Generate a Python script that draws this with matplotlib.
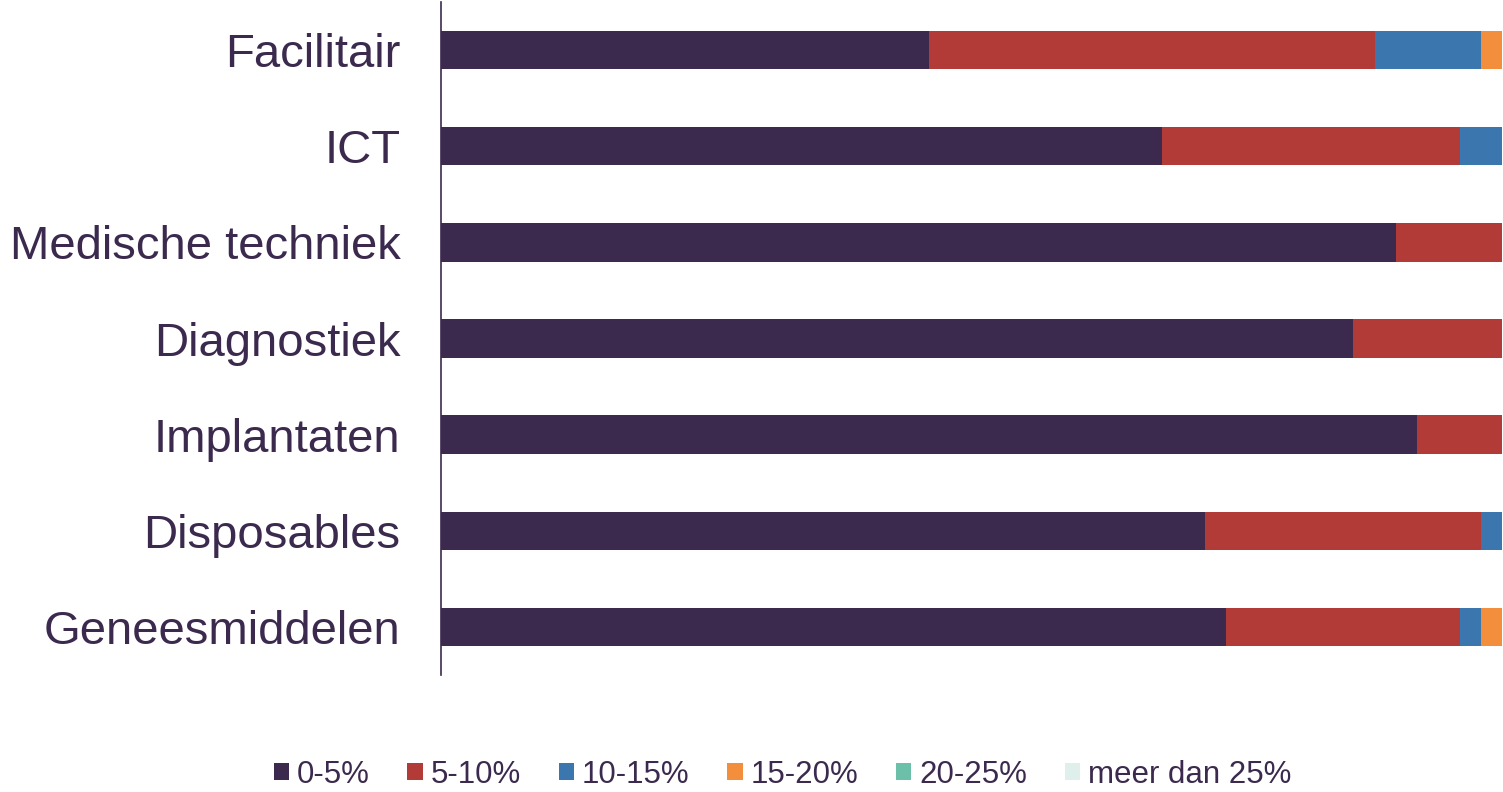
import matplotlib.pyplot as plt
import numpy as np

categories = ['Facilitair', 'ICT', 'Medische techniek', 'Diagnostiek',
              'Implantaten', 'Disposables', 'Geneesmiddelen']
series = ['0-5%', '5-10%', '10-15%', '15-20%', '20-25%', 'meer dan 25%']
values = {
    '0-5%':         [46, 68, 90, 86, 92, 72, 74],
    '5-10%':        [42, 28, 10, 14, 8, 26, 22],
    '10-15%':       [10, 4, 0, 0, 0, 2, 2],
    '15-20%':       [2, 0, 0, 0, 0, 0, 2],
    '20-25%':       [0, 0, 0, 0, 0, 0, 0],
    'meer dan 25%': [0, 0, 0, 0, 0, 0, 0],
}
colors = ['#3B2A4E', '#B23A37', '#3C76AF', '#F28E3C', '#6CBFA8', '#DFF0EC']
text_color = '#3B2A4E'

plt.rcParams['font.family'] = ['Liberation Sans', 'DejaVu Sans']

fig = plt.figure(figsize=(15.03, 7.92), dpi=100)
ax = fig.add_axes([0.2934, 0.1477, 0.7059, 0.8498])

y = np.arange(len(categories))
left = np.zeros(len(categories))
for name, col in zip(series, colors):
    vals = np.array(values[name], dtype=float)
    ax.barh(y, vals, left=left, height=0.4, color=col, label=name)
    left += vals

ax.set_xlim(0, 100)
ax.set_ylim(len(categories) - 0.5, -0.5)
ax.set_yticks(y)
ax.set_yticklabels(categories, fontsize=34, color=text_color)
ax.tick_params(axis='y', length=0, pad=29)
ax.set_xticks([])
for s in ['top', 'right', 'bottom']:
    ax.spines[s].set_visible(False)
ax.spines['left'].set_color(text_color)
ax.spines['left'].set_linewidth(1.2)

fig.legend(loc='center', bbox_to_anchor=(0.5206, 0.022), ncol=6, frameon=False,
           fontsize=22.5, labelcolor=text_color, handlelength=0.5, handleheight=0.5,
           handletextpad=0.25, columnspacing=1.2)

plt.savefig('out.png', dpi=100)
